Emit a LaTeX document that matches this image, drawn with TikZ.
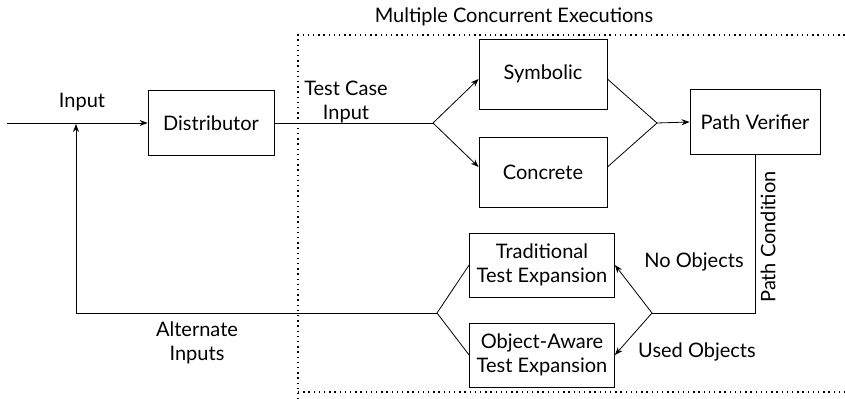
\documentclass[tikz,border=0pt]{standalone}
\usepackage{fontspec}
\setmainfont{Lato}
\usetikzlibrary{arrows.meta,calc}
\begin{document}
\begin{tikzpicture}[x=0.75pt,y=-0.75pt,
  every node/.style={font=\fontsize{15}{18.5}\selectfont},
  box/.style={draw,line width=0.6pt,inner sep=0pt,align=center},
  conn/.style={line width=0.6pt},
  arr/.style={conn,-{Stealth[length=6pt,width=4.5pt]}},
  frame/.style={line width=1.1pt,dash pattern=on 1.1pt off 2.8pt},
  lbl/.style={align=center,inner sep=0pt}]
\useasboundingbox (0,0) rectangle (845,399);
\begin{scope}
\clip (0,0) rectangle (845,399);
\draw[frame] (850,35) -- (298,35) -- (298,399);
\draw[frame] (298,392) -- (850,392);
\end{scope}
\node[lbl] (mce) at (514,17) {Multiple Concurrent Executions};
\node[box,minimum width=94.5pt,minimum height=48.75pt] (dist) at (211,123) {Distributor};
\node[box,minimum width=96pt,minimum height=52.5pt] (sym) at (543,74) {Symbolic};
\node[box,minimum width=96pt,minimum height=52.5pt] (con) at (543,172) {Concrete};
\node[box,minimum width=97.5pt,minimum height=48.75pt] (pv) at (755,122) {Path Verifier};
\node[box,minimum width=108.75pt,minimum height=48pt] (trad) at (542,265) {Traditional\\Test Expansion};
\node[box,minimum width=108.75pt,minimum height=48pt] (oa) at (542,355) {Object-Aware\\Test Expansion};
\coordinate (in) at (7,123);
\coordinate (j) at (76,123);
\coordinate (s1) at (433,123);
\coordinate (m1) at (657,123);
\coordinate (c1) at (755,313);
\coordinate (s2) at (652,313);
\coordinate (m2) at (437,313);
\coordinate (c2) at (76,313);
\draw[arr] (in) -- (dist.west);
\draw[conn] (dist.east) -- (s1);
\draw[arr] (s1) -- ($(sym.west)+(0,5)$);
\draw[arr] (s1) -- ($(con.west)+(0,-5)$);
\draw[conn] ($(sym.east)+(0,5)$) -- (m1);
\draw[conn] ($(con.east)+(0,-5)$) -- (m1);
\draw[arr] (m1) -- (pv.west);
\draw[conn] (pv.south) -- (c1) -- (s2);
\draw[arr] (s2) -- (trad.east);
\draw[arr] (s2) -- (oa.east);
\draw[conn] (trad.west) -- (m2);
\draw[conn] (oa.west) -- (m2);
\draw[arr] (m2) -- (c2) -- ($(j)+(0,1)$);
\node[lbl] (linput) at (82,102) {Input};
\node[lbl] (ltc) at (346,102) {Test Case\\Input};
\node[lbl] (lno) at (694,262) {No Objects};
\node[lbl] (lused) at (697,352) {Used Objects};
\node[lbl] (lalt) at (197,343) {Alternate\\Inputs};
\node[lbl,rotate=90] (lpc) at (768,237) {Path Condition};
\end{tikzpicture}
\end{document}
